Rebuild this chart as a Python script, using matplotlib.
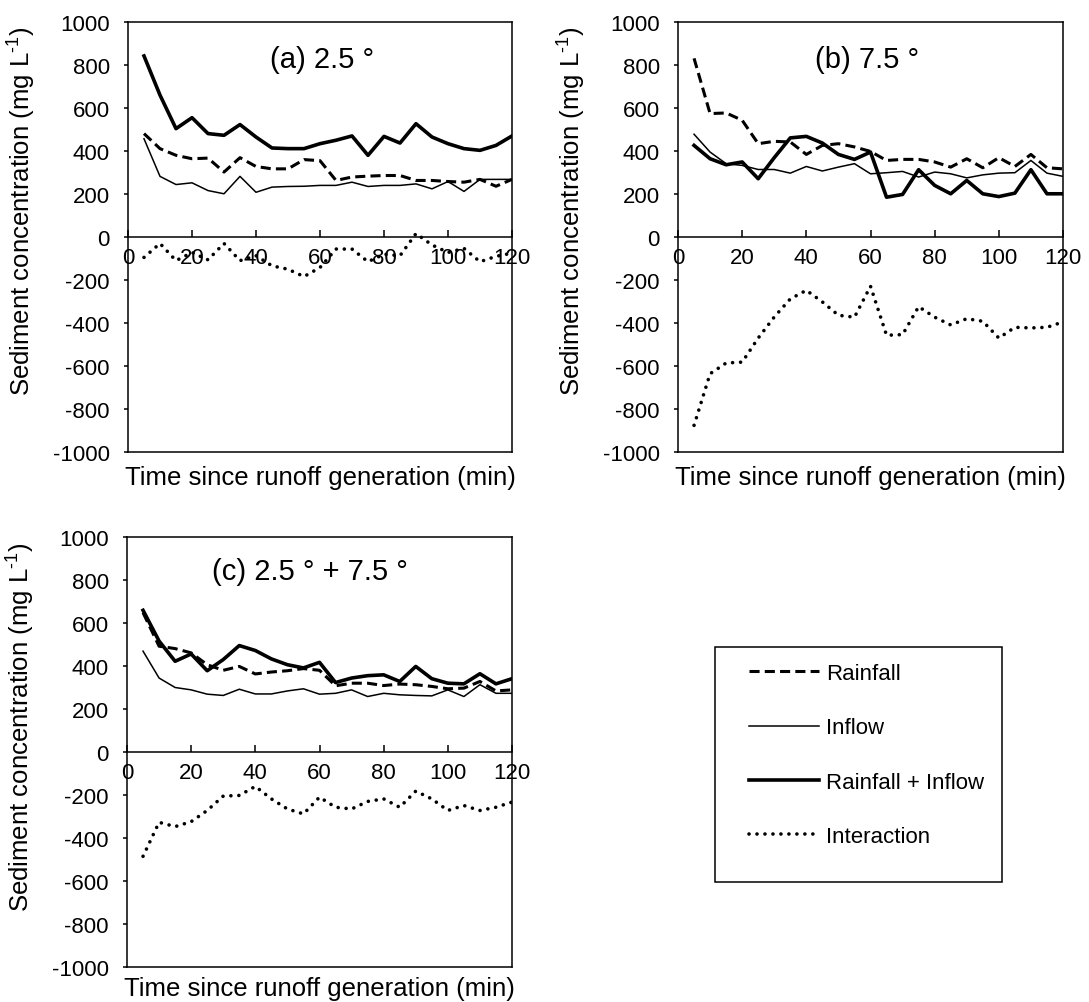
import matplotlib
matplotlib.use('Agg')
import matplotlib.pyplot as plt
from matplotlib.patches import Rectangle
from matplotlib.lines import Line2D

plt.rcParams['font.family'] = ['Liberation Sans', 'DejaVu Sans']
plt.rcParams['mathtext.fontset'] = 'custom'
plt.rcParams['mathtext.rm'] = 'Liberation Sans'
plt.rcParams['mathtext.default'] = 'regular'
plt.rcParams['axes.unicode_minus'] = False

# ---------------- data ----------------
time_min = [5, 10, 15, 20, 25, 30, 35, 40, 45, 50, 55, 60,
            65, 70, 75, 80, 85, 90, 95, 100, 105, 110, 115, 120]

a_rain = [481, 411, 380, 364, 367, 302, 369, 328, 317, 317, 360, 355,
          263, 279, 283, 286, 286, 263, 263, 258, 255, 268, 236, 268]
a_inflow = [457, 282, 244, 252, 216, 201, 282, 208, 232, 235, 236, 240,
            240, 255, 235, 240, 240, 247, 224, 258, 212, 268, 268, 268]
a_comb = [842, 660, 504, 555, 481, 473, 523, 465, 414, 411, 411, 434,
          450, 470, 380, 468, 437, 527, 465, 434, 411, 403, 426, 470]
a_inter = [-95, -30, -110, -72, -106, -30, -110, -87, -134, -150, -184, -142,
           -56, -56, -115, -80, -87, 16, -37, -72, -53, -115, -90, -75]

b_rain = [831, 574, 577, 543, 434, 445, 442, 384, 426, 434, 419, 398,
          356, 361, 361, 349, 325, 364, 322, 369, 328, 384, 322, 317]
b_inflow = [478, 395, 341, 333, 314, 314, 297, 328, 307, 325, 341, 294,
            299, 305, 279, 302, 294, 275, 289, 297, 299, 356, 297, 282]
b_comb = [426, 364, 336, 349, 271, 369, 461, 468, 437, 384, 361, 395,
          185, 198, 313, 240, 201, 263, 201, 188, 204, 313, 201, 201]
b_inter = [-876, -636, -586, -582, -470, -372, -288, -248, -302, -364, -373, -229,
           -457, -454, -324, -373, -409, -380, -392, -470, -420, -423, -420, -395]

c_rain = [648, 492, 481, 461, 406, 380, 398, 363, 372, 378, 388, 380,
          308, 320, 320, 309, 316, 313, 305, 294, 297, 328, 284, 289]
c_inflow = [469, 344, 300, 289, 269, 263, 292, 270, 270, 284, 294, 269,
            273, 289, 258, 273, 266, 263, 261, 289, 258, 313, 273, 273]
c_comb = [659, 516, 422, 456, 378, 430, 495, 472, 433, 406, 391, 417,
          323, 344, 355, 359, 328, 398, 341, 320, 317, 364, 317, 341]
c_inter = [-485, -327, -347, -324, -272, -205, -202, -160, -218, -265, -288, -210,
           -257, -265, -230, -218, -257, -182, -218, -272, -249, -272, -257, -233]

x_ticks = [0, 20, 40, 60, 80, 100, 120]
y_ticks = [-1000, -800, -600, -400, -200, 0, 200, 400, 600, 800, 1000]
series_labels = ['Rainfall', 'Inflow', 'Rainfall + Inflow', 'Interaction']
panel_titles = ['(a) 2.5 °', '(b) 7.5 °', '(c) 2.5 ° + 7.5 °']
x_label = 'Time since runoff generation (min)'
y_label = r'Sediment concentration (mg L$^{\text{-1}}$)'

# ---------------- styles ----------------
W, H = 1089, 1003
styles = [
    dict(color='k', lw=2.2, linestyle=(0, (3.3, 1.7))),
    dict(color='k', lw=1.1, linestyle='-'),
    dict(color='k', lw=2.6, linestyle='-'),
    dict(color='k', lw=2.6, linestyle=(0, (0.01, 2.2)), dash_capstyle='round'),
]

fig = plt.figure(figsize=(W / 100, H / 100), dpi=100)


def px_axes(left, top, right, bottom):
    return fig.add_axes([left / W, 1 - bottom / H, (right - left) / W, (bottom - top) / H])


def draw(ax, series, title, tx, ty, ylab_y, xlab_y):
    for vals, st in zip(series, styles):
        ax.plot(time_min, vals, **st)
    ax.set_xlim(0, 120)
    ax.set_ylim(-1000, 1000)
    ax.set_xticks(x_ticks)
    ax.set_yticks(y_ticks)
    for s in ax.spines.values():
        s.set_linewidth(1.1)
    ax.spines['bottom'].set_position(('data', 0))
    ax.plot([0, 1], [0, 0], transform=ax.transAxes, color='k', lw=1.1,
            clip_on=False, solid_capstyle='projecting')
    ax.tick_params(axis='x', direction='in', length=5, width=1.1, pad=7, labelsize=16)
    ax.tick_params(axis='y', direction='out', length=3, width=1.1, pad=10, labelsize=16)
    ax.text(tx, ty, title, transform=ax.transAxes, ha='center', va='center', fontsize=21)
    ax.text(0.5, xlab_y, x_label, transform=ax.transAxes, ha='center', va='center',
            fontsize=18.5)
    ax.text(-0.276, ylab_y, y_label, transform=ax.transAxes, ha='center', va='center',
            rotation=90, fontsize=18.5)


ax_a = px_axes(128, 23, 512, 453)
ax_b = px_axes(678, 23, 1063, 453)
ax_c = px_axes(127, 538, 512, 968)

draw(ax_a, [a_rain, a_inflow, a_comb, a_inter], panel_titles[0], 0.505, 0.914, 0.563, -0.057)
draw(ax_b, [b_rain, b_inflow, b_comb, b_inter], panel_titles[1], 0.491, 0.914, 0.563, -0.057)
draw(ax_c, [c_rain, c_inflow, c_comb, c_inter], panel_titles[2], 0.475, 0.921, 0.56, -0.05)

# ---------------- legend ----------------
handles = [Line2D([], [], **st) for st in styles]
fig.legend(handles, series_labels, loc='upper left',
           bbox_to_anchor=(749 / W, 1 - 664 / H), bbox_transform=fig.transFigure,
           frameon=False, fontsize=16, handlelength=3.15, handletextpad=0.3,
           labelspacing=1.5, borderpad=0, borderaxespad=0)
fig.add_artist(Rectangle((715 / W, 1 - 883 / H), (1002 - 715) / W, (883 - 648) / H,
                         transform=fig.transFigure, fill=False, ec='k', lw=1.1))

fig.savefig('out.png', dpi=100)
